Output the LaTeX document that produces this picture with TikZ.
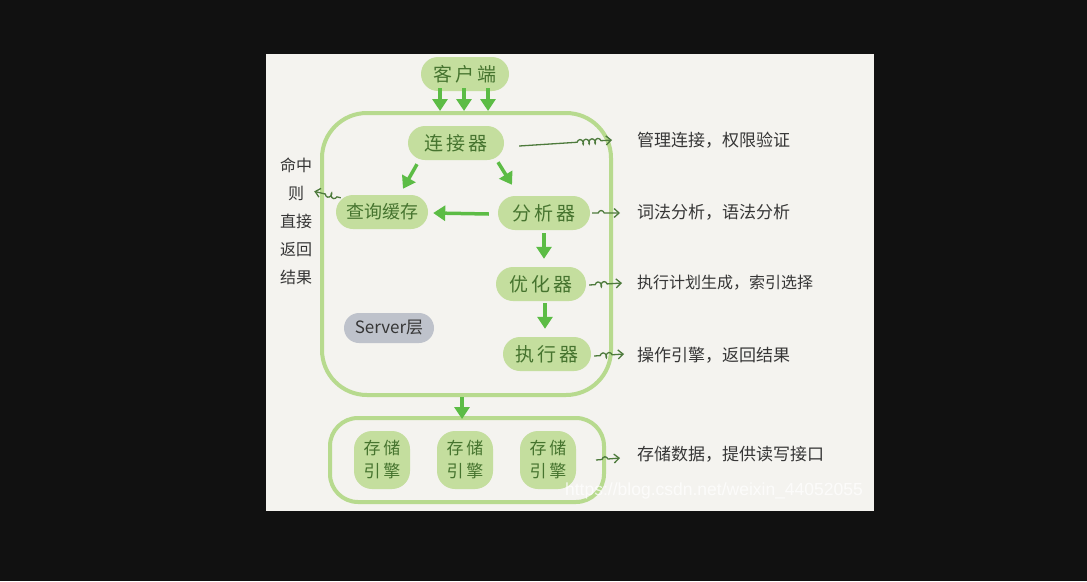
\documentclass[tikz,border=0pt]{standalone}
\usepackage{fontspec}
\newfontfamily\cjk{Noto Sans CJK SC}
\newfontfamily\cjkwide[LetterSpace=15]{Noto Sans CJK SC}
\setmainfont{Liberation Sans}
\usetikzlibrary{arrows.meta,calc,decorations.pathmorphing}
\definecolor{bg}{HTML}{111111}
\definecolor{paper}{HTML}{F4F3EF}
\definecolor{nodefill}{HTML}{C4DE9E}
\definecolor{nodetext}{HTML}{46742F}
\definecolor{boxline}{HTML}{B7DA8E}
\definecolor{arrowgreen}{HTML}{5CBC45}
\definecolor{annot}{HTML}{4D7A3C}
\definecolor{inktext}{HTML}{363636}
\definecolor{grayfill}{HTML}{BEC2CB}
\begin{document}
\begin{tikzpicture}[x=1pt,y=-1pt,
  gnode/.style={fill=nodefill, text=nodetext, rounded corners=17pt, minimum height=34pt,
    inner sep=0pt, font=\cjkwide\fontsize{19}{22}\selectfont},
  engine/.style={fill=nodefill, text=nodetext, rounded corners=18pt, minimum width=56pt,
    minimum height=58pt, inner sep=0pt, align=center, font=\cjkwide\fontsize{17}{23}\selectfont},
  graynode/.style={fill=grayfill, text=inktext, rounded corners=15pt, minimum width=90pt,
    minimum height=30pt, inner sep=0pt, font=\cjk\itshape\fontsize{17}{20}\selectfont},
  box/.style={draw=boxline, line width=4pt},
  garrow/.style={draw=arrowgreen, line width=3.5pt, -{Triangle[length=12pt,width=15pt]}},
  anno/.style={text=inktext, inner sep=0pt, anchor=west, font=\cjk\fontsize{17}{20}\selectfont},
  sq/.style={draw=annot, line width=1.3pt, -{Straight Barb[length=5pt,width=9pt]},
    decorate, decoration={coil, aspect=0.6, segment length=6pt, amplitude=2.5pt,
    pre length=#1, post length=10pt}},
  sq/.default=6pt
]
\fill[bg] (0,0) rectangle (1087,581);
\useasboundingbox (0,0) rectangle (1087,581);
\fill[paper] (266,54) rectangle (874,511);

% containers
\node[box, minimum width=289pt, minimum height=282pt, rounded corners=45pt] (server) at (466.5,254) {};
\node[box, minimum width=274pt, minimum height=84pt, rounded corners=28pt] (store) at (467,460) {};

% nodes
\node[gnode, minimum width=88pt] (client) at (465,74) {客户端};
\node[gnode, minimum width=96pt] (conn) at (456,143) {连接器};
\node[gnode, minimum width=92pt, font=\cjk\fontsize{18}{22}\selectfont] (cache) at (382,212) {查询缓存};
\node[gnode, minimum width=92pt] (parser) at (544,213) {分析器};
\node[gnode, minimum width=90pt] (opt) at (541,284) {优化器};
\node[gnode, minimum width=88pt] (exec) at (547,354) {执行器};
\node[graynode] (layer) at (389,328) {Server层};
\node[engine] (e1) at (382,460) {存储\\引擎};
\node[engine] (e2) at (465,460) {存储\\引擎};
\node[engine] (e3) at (548,460) {存储\\引擎};

% client arrows
\draw[garrow] ([xshift=-25pt,yshift=3pt]client.south) -- ([xshift=-25pt]client.south |- server.north);
\draw[garrow] ([xshift=-1pt,yshift=3pt]client.south) -- ([xshift=-1pt]client.south |- server.north);
\draw[garrow] ([xshift=23pt,yshift=3pt]client.south) -- ([xshift=23pt]client.south |- server.north);

% internal arrows
\draw[garrow] ($(conn.south)+(-39,4)$) -- ($(cache.north)+(21,-6)$);
\draw[garrow] ($(conn.south)+(42,2)$) -- ($(parser.north)+(-32,-11)$);
\draw[garrow] ($(parser.west)+(-9,1)$) -- ($(cache.east)+(5,1)$);
\draw[garrow] ($(parser.south)+(0,3)$) -- ($(opt.north)+(3,-8)$);
\draw[garrow] ($(opt.south)+(4,2)$) -- ($(exec.north)+(-2,-8)$);
\draw[garrow] ($(server.south)+(-4.5,0)$) -- ($(store.north)+(-5,3)$);

% left annotation
\node[text=inktext, inner sep=0pt, align=center, font=\cjk\fontsize{16}{28}\selectfont] (hit) at (296,221) {命中\\则\\直接\\返回\\结果};
\draw[sq=4pt] ($(cache.north west)+(5,3)$) -- ($(hit.north east)+(2,34)$);

% right annotations
\node[anno] (t1) at (637,140) {管理连接，权限验证};
\node[anno] (t2) at (637,212) {词法分析，语法分析};
\node[anno, font=\cjk\fontsize{16}{20}\selectfont] (t3) at (637,283) {执行计划生成，索引选择};
\node[anno] (t4) at (637,355) {操作引擎，返回结果};
\node[anno] (t5) at (637,454) {存储数据，提供读写接口};

\draw[sq=58pt] ($(conn.east)+(15,3)$) -- ($(t1.west)+(-25,0)$);
\draw[sq] ($(parser.east)+(2,0)$) -- ($(t2.west)+(-17,1)$);
\draw[sq] ($(opt.east)+(3,1)$) -- ($(t3.west)+(-15,0)$);
\draw[sq] ($(exec.east)+(3,2)$) -- ($(t4.west)+(-13,-1)$);
\draw[sq] ($(store.east)+(-10,0)$) -- ($(t5.west)+(-17,4)$);

% watermark
\node[text=white, opacity=0.75, inner sep=0pt, font=\fontsize{17.5}{19}\selectfont] (wm) at (714,491) {https://blog.csdn.net/weixin\_44052055};
\end{tikzpicture}
\end{document}
